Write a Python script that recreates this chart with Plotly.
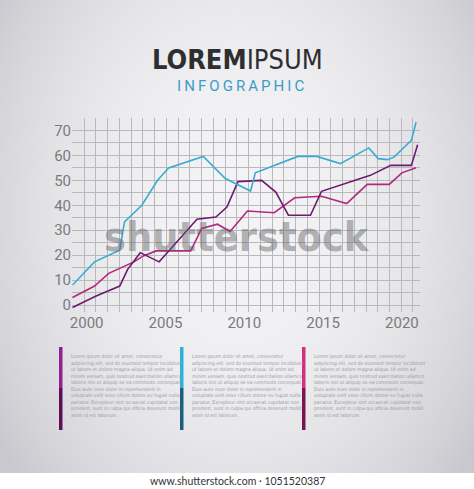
import base64, struct, zlib
import numpy as np
import plotly.graph_objects as go

# ---------------- data ----------------
blue_x = [1999.1, 2000.5, 2002.1, 2002.4, 2003.5, 2004.5, 2005.2, 2007.4, 2008.8, 2010.4, 2010.7,
          2013.4, 2014.6, 2016.1, 2017.9, 2018.5, 2019.1, 2019.5, 2020.6, 2020.9]
blue_y = [8, 17.3, 22, 33.3, 40, 50, 55, 59.6, 50.7, 45.7, 53,
          59.6, 59.6, 56.7, 63, 58.7, 58.3, 59.3, 66, 73.3]

purple_x = [1999.1, 2000.6, 2002.1, 2002.6, 2003.4, 2004.6, 2007.0, 2008.2, 2008.9, 2009.6, 2011.1,
            2012.0, 2012.8, 2014.2, 2014.9, 2018.0, 2019.3, 2020.6, 2021.0]
purple_y = [-1, 3.6, 7.6, 14.3, 21, 17.3, 34.4, 35.3, 39.3, 49.5, 50,
            45.3, 36, 36, 45.6, 52, 56, 56, 64.3]

magenta_x = [1999.1, 2000.5, 2001.4, 2003.0, 2003.6, 2004.4, 2006.6, 2007.3, 2008.3, 2009.1, 2010.2,
             2011.9, 2013.2, 2014.9, 2016.5, 2017.8, 2019.2, 2020.0, 2020.9]
magenta_y = [3, 7.6, 12.7, 17.3, 19.7, 21.7, 21.7, 30.7, 32.4, 29.5, 37.7,
             37, 43, 43.6, 40.7, 48.4, 48.4, 53, 55]

x_ticks = [2000, 2005, 2010, 2015, 2020]
y_ticks = [0, 10, 20, 30, 40, 50, 60, 70]

title_bold = "LOREM"
title_rest = "IPSUM"
subtitle = "INFOGRAPHIC"
lorem = ["Lorem ipsum dolor sit amet, consectetur",
         "adipiscing elit, sed do eiusmod tempor incididunt",
         "ut labore et dolore magna aliqua. Ut enim ad",
         "minim veniam, quis nostrud exercitation ullamco",
         "laboris nisi ut aliquip ex ea commodo consequat.",
         "Duis aute irure dolor in reprehenderit in",
         "voluptate velit esse cillum dolore eu fugiat nulla",
         "pariatur. Excepteur sint occaecat cupidatat non",
         "proident, sunt in culpa qui officia deserunt mollit",
         "anim id est laborum."]
credit = "www.shutterstock.com · 1051520387"

BLUE = "#3aaad2"
PURPLE = "#6e1a6e"
MAGENTA = "#b3287c"

# ---------------- layout geometry ----------------
W, H = 474, 489
ML, MR, MT, MB = 72, 54, 118, 177
PW, PH = W - ML - MR, H - MT - MB


def px(x):
    return (x - ML) / PW


def py(y):
    return (H - MB - y) / PH


# ---------------- background gradient image ----------------
def make_png(arr):
    h, w, _ = arr.shape
    raw = b"".join(b"\x00" + arr[i].tobytes() for i in range(h))

    def chunk(t, d):
        c = struct.pack(">I", len(d)) + t + d
        return c + struct.pack(">I", zlib.crc32(t + d) & 0xffffffff)

    png = b"\x89PNG\r\n\x1a\n" + chunk(b"IHDR", struct.pack(">IIBBBBB", w, h, 8, 2, 0, 0, 0))
    png += chunk(b"IDAT", zlib.compress(raw, 9)) + chunk(b"IEND", b"")
    return "data:image/png;base64," + base64.b64encode(png).decode()


gw, gh = 237, 236
yy, xx = np.mgrid[0:gh, 0:gw]
nx = (xx - gw / 2) / (gw * 0.62)
ny = (yy - gh * 0.45) / (gh * 0.85)
r = np.clip(np.sqrt(nx ** 2 + ny ** 2), 0, 1) ** 2.2
center = np.array([244, 244, 246])
edge = np.array([200, 200, 206])
img = (center[None, None, :] * (1 - r[..., None]) + edge[None, None, :] * r[..., None]).astype(np.uint8)
bg_src = make_png(img)

fig = go.Figure()

for xs, ys, col in [(magenta_x, magenta_y, MAGENTA), (purple_x, purple_y, PURPLE), (blue_x, blue_y, BLUE)]:
    fig.add_trace(go.Scatter(x=xs, y=ys, mode="lines", line=dict(color=col, width=1.6),
                             hoverinfo="skip", showlegend=False))

GRID = "#b9b9bd"
NARROW = "DejaVu Sans Condensed, Roboto, sans-serif"
TICKF = "Roboto, sans-serif"
fig.update_xaxes(range=[1999.07, 2021.15], tickvals=x_ticks, ticktext=[str(v) for v in x_ticks],
                 showgrid=False, zeroline=False, showline=False, ticks="",
                 tickfont=dict(family=TICKF, size=15, color="#7a7a7e"),
                 minor=dict(tick0=1999.1, dtick=0.745, showgrid=True, gridcolor=GRID, gridwidth=1.1))
fig.update_yaxes(range=[-2.8, 75.0], tickvals=y_ticks, ticktext=[str(v) for v in y_ticks],
                 showgrid=True, gridcolor=GRID, gridwidth=1.1, zeroline=False, showline=False, ticks="",
                 tickfont=dict(family=TICKF, size=15, color="#7a7a7e"),
                 minor=dict(tick0=0, dtick=5, showgrid=True, gridcolor=GRID, gridwidth=1.1))


def ann(x, y, text, font, **kw):
    d = dict(xref="paper", yref="paper", x=px(x), y=py(y), text=text, showarrow=False, font=font,
             xanchor="center", yanchor="middle")
    d.update(kw)
    return d


annotations = [
    ann(237, 60, f"<b>{title_bold}</b>{title_rest}", dict(family=NARROW, size=27, color="#2e2e30")),
    ann(240, 86, "\u2009".join(subtitle), dict(family="Roboto, sans-serif", size=15, color="#3a9dc8")),
    ann(237, 237, "<b>shutterstock</b>", dict(family=NARROW, size=41, color="rgba(95,95,100,0.45)")),
    ann(237, 481, credit, dict(family="Lato, Open Sans, sans-serif", size=10.5, color="#333333")),
]

shapes = []
cols = [(59, 69, ["#92208f", "#5a0f58"]), (180, 190, ["#2fb0dc", "#1c5f7a"]), (302, 312, ["#d42d84", "#7a1550"])]
for bx, tx, (c1, c2) in cols:
    shapes.append(dict(type="rect", xref="paper", yref="paper", x0=px(bx), x1=px(bx + 3.5),
                       y0=py(388), y1=py(347), fillcolor=c1, line=dict(width=0), layer="above"))
    shapes.append(dict(type="rect", xref="paper", yref="paper", x0=px(bx), x1=px(bx + 3.5),
                       y0=py(430), y1=py(388), fillcolor=c2, line=dict(width=0), layer="above"))
    annotations.append(ann(tx, 351, "<br>".join(lorem), dict(family=NARROW, size=5.0, color="#9a9a9e"),
                           xanchor="left", yanchor="top", align="left"))

fig.update_layout(
    width=W, height=H, margin=dict(l=ML, r=MR, t=MT, b=MB, autoexpand=False),
    paper_bgcolor="#ffffff", plot_bgcolor="rgba(0,0,0,0)",
    images=[dict(source=bg_src, xref="paper", yref="paper", x=px(0), y=py(0),
                 sizex=W / PW, sizey=473 / PH, xanchor="left", yanchor="top",
                 sizing="stretch", layer="below")],
    annotations=annotations, shapes=shapes, showlegend=False,
)

fig.write_html("out.html", config={"displayModeBar": False},
               post_script="document.body.style.margin='0';document.body.style.overflow='hidden';")
